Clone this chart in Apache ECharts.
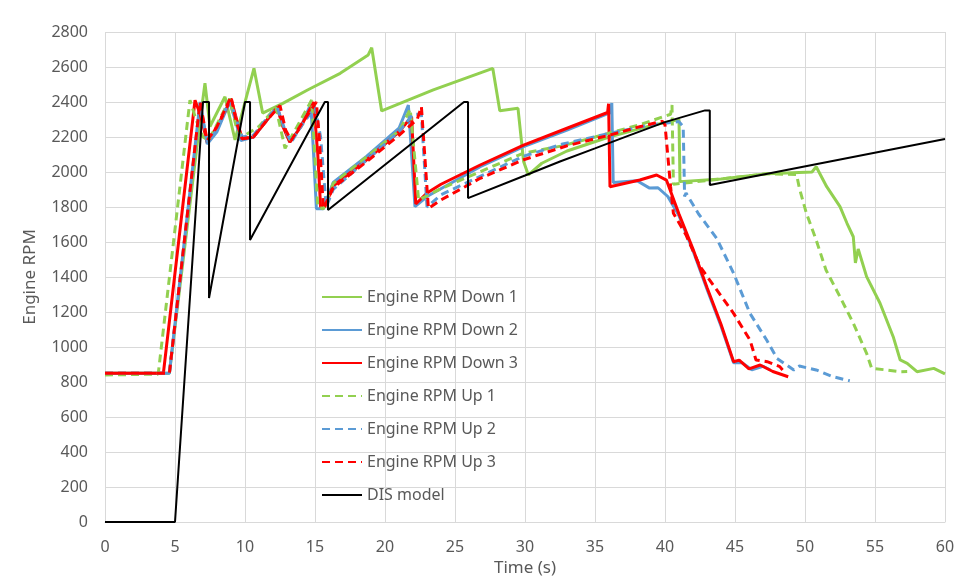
<!DOCTYPE html>
<html>
<head>
<meta charset="utf-8">
<script src="https://cdn.jsdelivr.net/npm/echarts@6/dist/echarts.min.js"></script>
<style>
html,body{margin:0;padding:0;background:#fff;}
#c{width:957px;height:579px;}
</style>
</head>
<body>
<div id="c"></div>
<script>
// ---- data: [time (s), engine rpm] ----
const seriesNames = ["Engine RPM Down 1","Engine RPM Down 2","Engine RPM Down 3","Engine RPM Up 1","Engine RPM Up 2","Engine RPM Up 3","DIS model"];

const down1 = [[0,850],[4.6,850],[6.8,2300],[7.14,2507],[7.5,2260],[8.57,2430],[9.29,2183],[10.64,2592],[11.26,2337],[12.7,2392],[14.5,2470],[16.8,2564],[18.8,2669],[19.05,2710],[19.76,2349],[23.45,2469],[27.7,2592],[28.2,2350],[29.5,2364],[29.9,2060],[30.24,1983],[31.2,2050],[33,2120],[36,2200],[39,2265],[41.0,2300],[41.07,1945],[44,1960],[47.3,1990],[50.5,2000],[50.8,2030],[51.55,1916],[52.5,1802],[53,1707],[53.45,1630],[53.6,1480],[53.8,1560],[54.4,1402],[55.36,1250],[56.3,1059],[56.8,926],[57.3,907],[58,859],[59.2,878],[60,846]];

const down2 = [[0,850],[4.6,850],[6.79,2400],[7.3,2160],[8.0,2230],[8.9,2400],[9.3,2300],[9.7,2180],[10.6,2200],[11.5,2290],[12.3,2370],[12.7,2270],[13.2,2170],[14.0,2260],[14.7,2390],[14.9,2100],[15.1,1790],[15.6,1790],[16.3,1940],[18.7,2090],[21.0,2250],[21.67,2383],[22.14,1802],[23,1860],[26.8,2030],[29.9,2145],[33,2240],[36.1,2340],[36.2,2394],[36.3,1940],[38,1950],[38.9,1908],[39.5,1910],[40.2,1860],[41,1750],[42,1550],[43,1330],[44,1120],[44.9,910],[45.5,910],[46.2,870],[47,890],[47.5,870]];

const down3 = [[0,850],[4.17,850],[6.43,2410],[6.8,2330],[7.3,2170],[8.0,2260],[8.6,2350],[9.0,2420],[9.4,2300],[9.8,2190],[10.6,2200],[11.5,2290],[12.3,2370],[12.7,2260],[13.2,2170],[14.0,2260],[14.9,2400],[15.2,2100],[15.4,1800],[15.7,1800],[16.3,1920],[18.7,2070],[21.0,2230],[21.9,2316],[22.2,1817],[23,1880],[24,1930],[26.8,2040],[29.9,2154],[33,2250],[35.9,2340],[35.97,2390],[36.07,1916],[38.2,1954],[39.4,1983],[40.1,1954],[41.0,1760],[42.0,1560],[43.0,1340],[44.0,1130],[44.9,916],[45.3,925],[46.0,875],[46.8,897],[47.7,860],[48.8,830]];

const up1 = [[0,840],[3.8,845],[6.07,2411],[6.5,2300],[7.0,2200],[7.4,2180],[8.5,2350],[8.9,2420],[9.4,2250],[9.8,2200],[11,2260],[12.2,2370],[12.86,2135],[14.76,2411],[15.2,1800],[15.6,1790],[16.3,1935],[18.7,2088],[21.07,2240],[21.8,2360],[22.4,1840],[24,1905],[26.8,2002],[29.9,2108],[32.7,2150],[35,2200],[38.2,2270],[40.4,2330],[40.5,2383],[40.6,1930],[44,1960],[47.3,1990],[49.4,1985],[49.6,1907],[50.1,1764],[50.8,1611],[51.5,1440],[52.5,1287],[53.45,1136],[54.4,964],[54.76,878],[55.8,869],[56.8,859],[57.3,860]];

const up2 = [[0,850],[4.6,850],[6.79,2380],[7.3,2170],[8.0,2240],[8.9,2410],[9.3,2320],[9.8,2200],[10.6,2210],[11.5,2300],[12.3,2370],[12.8,2250],[13.3,2170],[14.0,2260],[15.0,2370],[15.4,2200],[15.8,1800],[16.3,1900],[18.7,2070],[21.0,2230],[22.0,2330],[22.6,2330],[23.0,1800],[24,1870],[26.8,1975],[29.9,2090],[32.7,2160],[36,2220],[39,2270],[41.0,2288],[41.3,2259],[41.4,1860],[41.5,1880],[42.4,1760],[43.7,1620],[44.9,1421],[46.07,1192],[47.26,1040],[48,935],[49.2,869],[49.6,891],[50.8,869],[52,830],[53.2,807]];

const up3 = [[0,850],[4.6,850],[6.79,2400],[7.3,2180],[8.0,2260],[9.0,2430],[9.4,2280],[9.8,2190],[10.6,2200],[11.5,2290],[12.5,2380],[12.9,2240],[13.3,2180],[14.0,2270],[15.1,2400],[15.3,2200],[15.6,1790],[16.3,1910],[18.7,2060],[21.0,2210],[22.3,2300],[22.6,2373],[23.1,1792],[24,1840],[26.8,1964],[29.9,2070],[33,2150],[36,2210],[38.2,2259],[39.8,2290],[40.0,2270],[40.4,1916],[40.6,1764],[41.5,1640],[42.5,1460],[43.7,1326],[44.9,1192],[46.07,1040],[46.5,926],[47.3,916],[48.2,888],[48.4,869]];

const dis = [[0,0],[5.0,0],[7.0,2400],[7.43,2400],[7.43,1280],[10.0,2400],[10.36,2400],[10.36,1611],[15.7,2400],[15.93,2400],[15.93,1783],[25.64,2400],[25.93,2400],[25.93,1851],[30,1980],[32.5,2060],[35,2135],[37.5,2211],[40,2285],[42.86,2352],[43.2,2352],[43.2,1926],[60,2189]];

const xAxisMin = 0, xAxisMax = 60, xAxisStep = 5;
const yAxisMin = 0, yAxisMax = 2800, yAxisStep = 200;

const seriesData = [down1, down2, down3, up1, up2, up3, dis];
const seriesColors = ["#92D050","#5B9BD5","#FF0000","#92D050","#5B9BD5","#FF0000","#000000"];
const seriesDashed = [false,false,false,true,true,true,false];

const chart = echarts.init(document.getElementById('c'), null, {renderer:'canvas'});
const FONT = "'Noto Sans', sans-serif";
chart.setOption({
  animation:false,
  backgroundColor:'#ffffff',
  grid:{left:105,right:12,top:32,bottom:57,containLabel:false,outerBoundsMode:'none'},
  legend:{
    orient:'vertical', left:316, top:284,
    itemWidth:40, itemHeight:16, itemGap:17,
    itemStyle:{opacity:0},
    textStyle:{fontFamily:FONT,fontSize:16,color:'#595959',lineHeight:16},
    data:seriesNames
  },
  xAxis:{
    type:'value', min:xAxisMin, max:xAxisMax, interval:xAxisStep,
    name:'Time (s)', nameLocation:'middle', nameGap:37,
    nameTextStyle:{fontFamily:FONT,fontSize:17,color:'#595959'},
    axisLine:{show:true,lineStyle:{color:'#d9d9d9',width:1}},
    axisTick:{show:false},
    axisLabel:{fontFamily:FONT,fontSize:16,color:'#595959',margin:17,formatter:v=>String(v)},
    splitLine:{show:true,lineStyle:{color:'#d9d9d9',width:1}}
  },
  yAxis:{
    type:'value', min:yAxisMin, max:yAxisMax, interval:yAxisStep,
    name:'Engine RPM', nameLocation:'middle', nameGap:66,
    nameTextStyle:{fontFamily:FONT,fontSize:17,color:'#595959'},
    axisLine:{show:false}, axisTick:{show:false},
    axisLabel:{fontFamily:FONT,fontSize:16,color:'#595959',margin:17,formatter:v=>String(v)},
    splitLine:{show:true,lineStyle:{color:'#d9d9d9',width:1}}
  },
  series: seriesNames.map((n,i)=>({
    name:n, type:'line', data:seriesData[i], showSymbol:false, symbol:'none',
    color:seriesColors[i],
    lineStyle:{color:seriesColors[i], width: i===6?2:3, type: seriesDashed[i]?[8,5]:'solid'},
    z: 2+i
  }))
});
</script>
</body>
</html>
